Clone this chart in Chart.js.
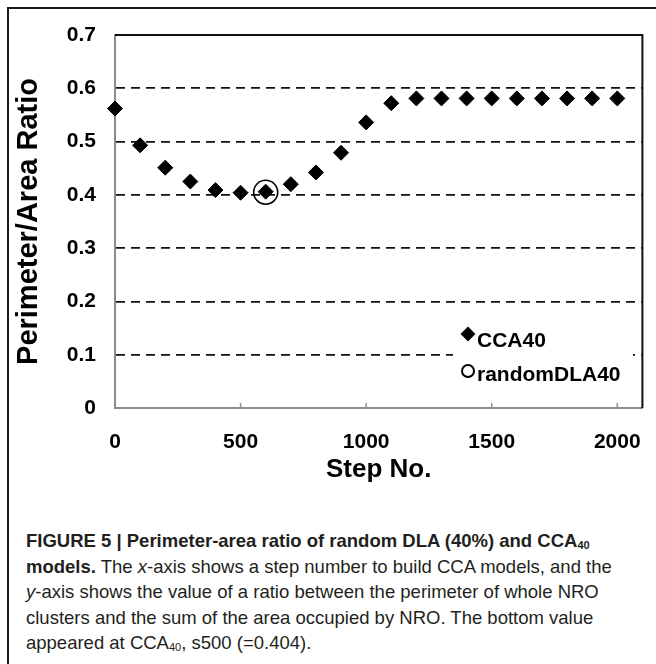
<!DOCTYPE html>
<html lang="en">
<head>
<meta charset="UTF-8">
<title>Perimeter/Area Ratio</title>
<script src="https://cdn.jsdelivr.net/npm/chart.js"></script>
<style>
  body { margin: 0; background: #fff; }
  #frame { position: absolute; left: 7px; top: 7px; width: 700px; height: 700px;
           border-left: 2px solid #1a1a1a; border-top: 2px solid #1a1a1a; }
  #plot { position: absolute; left: 0; top: 0; }
  #caption { position: absolute; left: 26px; top: 528px; white-space: nowrap;
             font-family: "Liberation Sans", Arial, sans-serif; font-size: 18.5px;
             line-height: 25.5px; color: #231f20; }
  #caption sub { font-size: 11px; vertical-align: -2px; line-height: 0; }
</style>
</head>
<body>
<div id="frame"></div>
<canvas id="plot" width="656" height="500"></canvas>
<div id="caption">
  <b>FIGURE 5 | Perimeter-area ratio of random DLA (40%) and CCA<sub>40</sub></b><br>
  <b>models.</b> The <i>x</i>-axis shows a step number to build CCA models, and the<br>
  <i>y</i>-axis shows the value of a ratio between the perimeter of whole NRO<br>
  clusters and the sum of the area occupied by NRO. The bottom value<br>
  appeared at CCA<sub>40</sub>, s500 (=0.404).
</div>
<script>
// step numbers and ratios
const steps = [0, 100, 200, 300, 400, 500, 600, 700, 800, 900, 1000,
               1100, 1200, 1300, 1400, 1500, 1600, 1700, 1800, 1900, 2000];
const cca40 = [0.562, 0.493, 0.451, 0.425, 0.409, 0.404, 0.406, 0.420, 0.442, 0.479, 0.536,
               0.572, 0.581, 0.581, 0.581, 0.581, 0.581, 0.581, 0.581, 0.581, 0.581];
const dlaSteps = [600];
const randomDla40 = [0.405];
const xTicks = [0, 500, 1000, 1500, 2000];
const yTicks = [0, 0.1, 0.2, 0.3, 0.4, 0.5, 0.6, 0.7];

Chart.defaults.font.family = '"Liberation Sans", Arial, sans-serif';
Chart.defaults.color = '#000';

// black top/right edges, inward ticks on x, and the legend box inside the plot
const plotFrame = {
  id: 'plotFrame',
  beforeDatasetsDraw(chart) {
    const {ctx, chartArea: a, scales: {x}} = chart;
    ctx.save();
    ctx.strokeStyle = '#8c8c8c';
    ctx.lineWidth = 1.5;
    xTicks.slice(1).forEach(v => {
      const px = x.getPixelForValue(v);
      ctx.beginPath();
      ctx.moveTo(px, a.bottom);
      ctx.lineTo(px, a.bottom - 5);
      ctx.stroke();
    });
    ctx.strokeStyle = '#111';
    ctx.lineWidth = 2;
    ctx.beginPath();
    ctx.moveTo(a.left, a.top);
    ctx.lineTo(a.right, a.top);
    ctx.lineTo(a.right, a.bottom);
    ctx.stroke();

    ctx.fillStyle = '#fff';
    ctx.fillRect(453, 320, 180, 72);
    ctx.font = 'bold 21px "Liberation Sans", Arial, sans-serif';
    ctx.textBaseline = 'alphabetic';
    ctx.textAlign = 'left';
    chart.data.datasets.forEach((ds, i) => {
      const y = i === 0 ? 334 : 371;
      ctx.fillStyle = i === 0 ? '#000' : 'rgba(0,0,0,0)';
      ctx.strokeStyle = '#000';
      Chart.helpers.drawPoint(ctx, {pointStyle: ds.pointStyle, radius: 6, rotation: 0, borderWidth: 1.2}, 468, y);
      ctx.fillStyle = '#000';
      ctx.fillText(ds.label, 477, i === 0 ? 347 : 381);
    });
    ctx.restore();
  }
};

new Chart(document.getElementById('plot'), {
  type: 'scatter',
  data: {
    datasets: [{
      label: 'CCA40',
      data: steps.map((s, i) => ({x: s, y: cca40[i]})),
      pointStyle: 'rectRot',
      pointRadius: 7.5,
      backgroundColor: '#000',
      borderColor: '#000',
      borderWidth: 1,
      clip: false
    }, {
      label: 'randomDLA40',
      data: dlaSteps.map((s, i) => ({x: s, y: randomDla40[i]})),
      pointStyle: 'circle',
      pointRadius: 12,
      backgroundColor: 'rgba(0,0,0,0)',
      borderColor: '#000',
      borderWidth: 1.6,
      clip: false
    }]
  },
  options: {
    responsive: false,
    animation: false,
    events: [],
    layout: { padding: { left: 0, top: 35, right: 9, bottom: 0 } },
    plugins: { legend: { display: false }, tooltip: { enabled: false } },
    scales: {
      x: {
        type: 'linear',
        min: 0,
        max: 2100,
        afterBuildTicks: s => { s.ticks = xTicks.map(v => ({value: v})); },
        afterFit: s => { s.height = 92; s.paddingLeft = 0; s.paddingRight = 0; },
        grid: { display: false },
        border: { color: '#8c8c8c', width: 2 },
        ticks: { font: { size: 21, weight: 'bold' }, padding: 14, maxRotation: 0,
                 callback: v => String(v) },
        title: { display: true, text: 'Step No.', font: { size: 26, weight: 'bold' },
                 padding: { top: 0, bottom: 15 } }
      },
      y: {
        min: 0,
        max: 0.7,
        afterBuildTicks: s => { s.ticks = yTicks.map(v => ({value: v})); },
        afterFit: s => { s.width = 115; s.paddingTop = 0; s.paddingBottom = 0; },
        grid: {
          drawTicks: false,
          lineWidth: 1.8,
          color: c => (c.tick && (c.tick.value === 0 || c.tick.value >= 0.7)) ? 'rgba(0,0,0,0)' : '#111'
        },
        border: { color: '#8c8c8c', width: 2, dash: [9, 6] },
        ticks: {
          font: { size: 21, weight: 'bold' },
          padding: 19,
          callback: v => v === 0 ? '0' : v.toFixed(1)
        },
        title: { display: true, text: 'Perimeter/Area Ratio', font: { size: 29, weight: 'bold' },
                 padding: { top: 12, bottom: 0 } }
      }
    }
  },
  plugins: [plotFrame]
});
</script>
</body>
</html>
